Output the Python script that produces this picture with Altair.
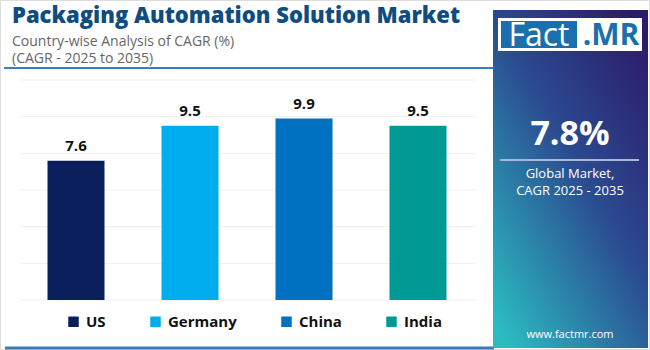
import altair as alt
import pandas as pd

countries = ["US", "Germany", "China", "India"]
cagr = [7.6, 9.5, 9.9, 9.5]
colors = ["#0a1f5c", "#00aeef", "#0070c0", "#009a94"]
grid_values = [0, 2, 4, 6, 8, 10, 12]

title = "Packaging Automation Solution Market"
subtitle1 = "Country-wise Analysis of CAGR (%)"
subtitle2 = "(CAGR - 2025 to 2035)"
global_value = "7.8%"
global_lines = ["Global Market,", "CAGR 2025 - 2035"]
site = "www.factmr.com"

FONT = "Open Sans"

df = pd.DataFrame({"country": countries, "cagr": cagr})
gdf = pd.DataFrame({"v": grid_values})

xscale = alt.Scale(domain=countries, range=[19, 475], paddingInner=0.5, paddingOuter=0.25)
yscale = alt.Scale(domain=[0, 12], range=[300, 80])

one = pd.DataFrame({"a": [0]})

def txt(text, x, y, size, color, weight="normal", align="left", font=FONT, baseline="alphabetic"):
    return alt.Chart(one).mark_text(
        text=text, font=font, fontSize=size, color=color, fontWeight=weight,
        align=align, baseline=baseline
    ).encode(x=alt.value(x), y=alt.value(y))

def rect(x, x2, y, y2, color, **kw):
    return alt.Chart(one).mark_rect(color=color, **kw).encode(
        x=alt.value(x), x2=alt.value(x2), y=alt.value(y), y2=alt.value(y2))

def rule(x, x2, y, color, width):
    return alt.Chart(one).mark_rule(color=color, strokeWidth=width).encode(
        x=alt.value(x), x2=alt.value(x2), y=alt.value(y))

grid = alt.Chart(gdf).mark_rule(color="#efefef", strokeWidth=1).encode(
    y=alt.Y("v:Q", scale=yscale, axis=None),
    x=alt.value(20), x2=alt.value(476))

bars = alt.Chart(df).mark_bar().encode(
    x=alt.X("country:N", scale=xscale, axis=None, sort=countries),
    y=alt.Y("cagr:Q", scale=yscale, axis=None),
    color=alt.Color("country:N", sort=countries,
                    scale=alt.Scale(domain=countries, range=colors),
                    legend=alt.Legend(title=None, orient="none", direction="horizontal",
                                      legendX=66, legendY=314, symbolType="square",
                                      symbolSize=110, symbolStrokeWidth=0,
                                      labelFont=FONT, labelFontSize=15, labelFontWeight="bold",
                                      labelColor="#111111", labelOffset=5, columnPadding=42)))

labels = alt.Chart(df).mark_text(
    font=FONT, fontSize=15, fontWeight="bold", color="#111111", baseline="bottom", dy=-7
).encode(
    x=alt.X("country:N", scale=xscale, axis=None, sort=countries),
    y=alt.Y("cagr:Q", scale=yscale, axis=None),
    text=alt.Text("cagr:Q", format=".1f"))

gradient = alt.LinearGradient(
    gradient="linear", x1=0.9, y1=0, x2=0.1, y2=1,
    stops=[alt.GradientStop(color="#2c1a6a", offset=0),
           alt.GradientStop(color="#2b4a90", offset=0.45),
           alt.GradientStop(color="#2bbcc2", offset=1)])

panel = rect(493, 648, 10, 348, gradient)

layers = [
    rect(0.5, 649.5, 0.5, 349.5, "#ffffff", stroke="#dddddd", strokeWidth=1),
    grid,
    bars,
    labels,
    txt(title, 12, 23, 22, "#0f4c81", weight=800),
    txt(subtitle1, 12, 45.5, 14, "#666666"),
    txt(subtitle2, 12, 63, 14, "#666666"),
    rule(4, 494, 68, "#3a7fb8", 2),
    rule(5, 494, 348, "#3a7ab5", 3),
    panel,
    rect(498, 642, 18, 51, "#ffffff"),
    rect(501, 577, 21, 48, "#1a6faf"),
    txt("Fact", 539, 46, 32, "#ffffff", align="center"),
    txt(".MR", 611, 45, 30, "#1a6faf", weight="bold", align="center"),
    txt(global_value, 570, 145, 34, "#ffffff", weight="bold", align="center"),
    rule(500, 639, 160, "#a9b8d6", 2),
    txt(global_lines[0], 570, 178, 13, "#ffffff", align="center"),
    txt(global_lines[1], 570, 195, 13, "#ffffff", align="center"),
    txt(site, 570, 338, 11, "#ffffff", align="center"),
]

chart = alt.layer(*layers).properties(
    width=650, height=350, autosize=alt.AutoSizeParams(type="none"),
    padding=0, background="#ffffff"
).configure_view(stroke=None)

chart.save("out.html", embed_options={"renderer": "svg", "actions": False})
